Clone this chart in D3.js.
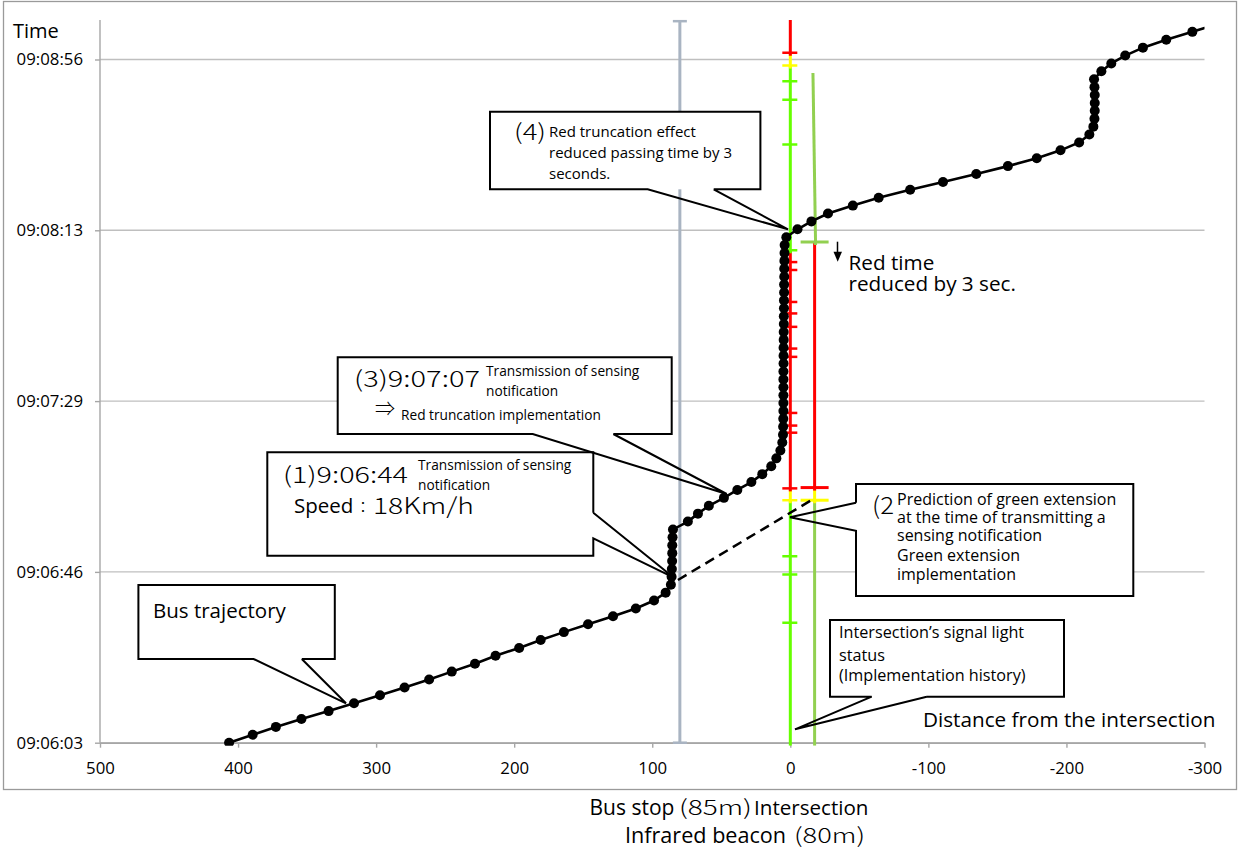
<!DOCTYPE html>
<html><head><meta charset="utf-8">
<script src="https://cdn.jsdelivr.net/npm/d3@7/dist/d3.min.js"></script>
<style>body{margin:0;background:#fff} svg{display:block}</style>
</head><body><svg id="c" width="1240" height="858"></svg>
<script>
// ---------- DATA ----------
const xTicks = [500, 400, 300, 200, 100, 0, -100, -200, -300];
// seconds after 09:06:03
const yTickSeconds = [0, 43.25, 86.5, 129.75, 173];
const yTickLabels = ["09:06:03", "09:06:46", "09:07:29", "09:08:13", "09:08:56"];

// Bus trajectory: time (s after 09:06:03) and distance from intersection (m)
const trajT = [0,2,4,6,8,10,12,14,16,18,20,22,24,26,28,30,32,34,36,38,40,42,44,46,48,50,52,54,56,58,60,62,64,66,68,70,72,74,76,78,80,82,84,86,88,90,92,94,96,98,100,102,104,106,108,110,112,114,116,118,120,122,124,126,128,130,132,134,136,138,140,142,144,146,148,150,152,154,156,158,160,162,164,166,168,170,172,174,176,178,180,182];
const trajD = [406.5,389.4,372.6,354.1,334.4,316.0,297.2,279.4,261.6,245.2,228.4,213.5,196.4,180.8,164.0,146.5,128.4,111.9,98.7,90.3,86.5,86.0,85.8,85.6,85.5,85.5,85.3,85.0,74.2,66.9,59.0,48.1,38.4,28.2,20.3,13.8,10.1,7.2,5.8,5.3,5.2,5.1,5.0,5.0,5.0,5.0,5.0,5.0,4.9,4.9,4.9,4.8,4.8,4.7,4.7,4.6,4.6,4.5,4.5,4.4,4.4,4.3,4.2,4.1,2.9,-5.2,-15.3,-27.3,-45.3,-64.0,-86.8,-110.6,-134.7,-157.6,-178.5,-195.7,-209.2,-216.6,-219.5,-220.3,-220.5,-220.5,-220.5,-220.3,-220.0,-225.3,-232.5,-242.6,-255.4,-272.3,-291.2,-309.0];

// Predicted trajectory at 18 km/h (dashed)
const predT = [41.2, 61.9];
const predD = [81.4, -17.6];

// Infrared beacon position (m) and its time span
const beaconD = 80;
const beaconT = [0, 182.7];

// Actual signal at intersection (d = 0)
const sigStart = [0, 61.4, 64.4, 124.7, 171.5, 174.7];
const sigEnd   = [61.4, 64.4, 124.7, 171.5, 174.7, 183];
const sigState = ["G", "Y", "R", "G", "Y", "R"];
const sigEventT = [30.4, 42.6, 47.2, 61.4, 64.4, 78.5, 80.3, 83.5, 97.7, 99.8, 105.3, 108.7, 111.6, 119.7, 121.7, 124.7, 151.5, 162.8, 167.5, 171.5, 174.7];

// Predicted signal at transmission time (second bar)
const predSigT0 = [0, 61.4, 64.6, 126.8];
const predSigT1 = [61.4, 64.6, 126.8, 169.6];
const predSigD0 = [-17.6, -17.6, -17.6, -18.3];
const predSigD1 = [-17.6, -17.6, -17.6, -16.4];
const predSigState = ["LG", "Y", "R", "LG"];
const predCapT = [61.4, 64.6, 126.8];
const predCapState = ["Y", "R", "LG"];

// ---------- STYLE ----------
const COL = {G: "#66ff00", Y: "#ffff00", R: "#ff0000", LG: "#92d050"};
const FONT = "'Open Sans', Lato, sans-serif";
const JFONT = "'Noto Sans CJK JP', 'Noto Sans', sans-serif";

const svg = d3.select("#c");
const P = {left: 100, right: 1204.5, top: 20, bottom: 742.7};
const x = d3.scaleLinear().domain([500, -300]).range([P.left, P.right]);
const y = d3.scaleLinear().domain([0, 183]).range([P.bottom, P.top]);

// outer border
svg.append("rect").attr("x", 3.5).attr("y", 1.5).attr("width", 1233).attr("height", 788)
  .attr("fill", "#fff").attr("stroke", "#9a9a9a").attr("stroke-width", 1.3);

svg.append("clipPath").attr("id", "clip").append("rect")
  .attr("x", P.left).attr("y", P.top - 2).attr("width", P.right - P.left).attr("height", P.bottom - P.top + 5);

// gridlines
svg.append("g").selectAll("line").data(yTickSeconds).join("line")
  .attr("x1", P.left).attr("x2", P.right)
  .attr("y1", d => y(d)).attr("y2", d => y(d))
  .attr("stroke", "#bfbfbf").attr("stroke-width", 1.4);

// axes
const yAxis = d3.axisLeft(y).tickValues(yTickSeconds).tickFormat((d, i) => yTickLabels[i])
  .tickSize(5).tickSizeOuter(0).tickPadding(12);
const gy = svg.append("g").attr("transform", `translate(${P.left},0)`).call(yAxis);
const xAxis = d3.axisBottom(x).tickValues(xTicks).tickFormat(d => d)
  .tickSize(5).tickSizeOuter(0).tickPadding(14);
const gx = svg.append("g").attr("transform", `translate(0,${P.bottom})`).call(xAxis);
[gx, gy].forEach(g => {
  g.select(".domain").attr("stroke", "#a6a6a6").attr("stroke-width", 1.4);
  g.selectAll(".tick line").attr("stroke", "#a6a6a6").attr("stroke-width", 1.4);
  g.selectAll(".tick text").attr("font-family", FONT).attr("font-size", 16.8).attr("fill", "#000");
});
gy.select(".domain").attr("d", `M0,${P.top}V${P.bottom}`);

const plot = svg.append("g").attr("clip-path", "url(#clip)");

// beacon line
const bx = x(beaconD);
plot.append("line").attr("x1", bx).attr("x2", bx).attr("y1", y(beaconT[1])).attr("y2", y(beaconT[0]))
  .attr("stroke", "#a9b4c2").attr("stroke-width", 3);
svg.append("g").selectAll("line").data(beaconT).join("line")
  .attr("x1", bx - 7).attr("x2", bx + 7).attr("y1", d => y(d)).attr("y2", d => y(d))
  .attr("stroke", "#a9b4c2").attr("stroke-width", 2.5);

// predicted signal bar
plot.append("g").selectAll("line").data(predSigT0).join("line")
  .attr("x1", (d, i) => x(predSigD0[i])).attr("x2", (d, i) => x(predSigD1[i]))
  .attr("y1", d => y(d) + 3).attr("y2", (d, i) => y(predSigT1[i]))
  .attr("stroke", (d, i) => COL[predSigState[i]]).attr("stroke-width", 3);
plot.append("g").selectAll("line").data(predCapT).join("line")
  .attr("x1", x(-17.6) - 14).attr("x2", x(-17.6) + 14)
  .attr("y1", d => y(d)).attr("y2", d => y(d))
  .attr("stroke", (d, i) => COL[predCapState[i]]).attr("stroke-width", 3);

// actual signal bar
plot.append("g").selectAll("line").data(sigStart).join("line")
  .attr("x1", x(0)).attr("x2", x(0))
  .attr("y1", d => y(d) + 3).attr("y2", (d, i) => y(sigEnd[i]))
  .attr("stroke", (d, i) => COL[sigState[i]]).attr("stroke-width", 3);
const stateAt = t => { let s = sigState[0]; sigStart.forEach((v, i) => { if (t >= v) s = sigState[i]; }); return s; };
plot.append("g").selectAll("line").data(sigEventT).join("line")
  .attr("x1", x(0) - 8).attr("x2", x(0) + 7)
  .attr("y1", d => y(d)).attr("y2", d => y(d))
  .attr("stroke", d => COL[stateAt(d)]).attr("stroke-width", 2.5);

// predicted dashed trajectory
plot.append("line").attr("x1", x(predD[0])).attr("y1", y(predT[0]))
  .attr("x2", x(predD[1])).attr("y2", y(predT[1]))
  .attr("stroke", "#000").attr("stroke-width", 2.5).attr("stroke-dasharray", "10,6");

// trajectory
const pts = trajT.map((t, i) => [trajD[i], t]);
plot.append("path").datum(pts)
  .attr("d", d3.line().x(d => x(d[0])).y(d => y(d[1])))
  .attr("fill", "none").attr("stroke", "#000").attr("stroke-width", 2.6);
plot.append("g").selectAll("circle").data(pts).join("circle")
  .attr("cx", d => x(d[0])).attr("cy", d => y(d[1])).attr("r", 5).attr("fill", "#000");

// ---------- annotations ----------
const ann = svg.append("g");
function callout(bx0, by0, bx1, by1, outline) {
  ann.append("rect").attr("x", bx0).attr("y", by0).attr("width", bx1 - bx0).attr("height", by1 - by0).attr("fill", "#fff");
  ann.append("path").attr("d", outline).attr("fill", "none").attr("stroke", "#000").attr("stroke-width", 2);
}
function txt(t, px, py, size, fam) {
  const e = ann.append("text").attr("x", px).attr("y", py).attr("font-size", size)
    .attr("font-family", fam || FONT).attr("fill", "#000").text(t);
  if (fam === JFONT) e.attr("font-weight", 300);
  return e;
}
// Japanese-style wide glyph text, stretched horizontally to the reference width
function wide(t, px, py, size, width) {
  const e = ann.append("text").attr("x", 0).attr("y", 0).attr("font-size", size)
    .attr("font-family", JFONT).attr("font-weight", 300).attr("fill", "#000").text(t);
  const w = e.node().getComputedTextLength() || width;
  e.attr("transform", `translate(${px},${py}) scale(${width / w},1)`);
  return e;
}
function block(lines, px, ys, size) {
  const e = ann.append("text").attr("font-size", size).attr("font-family", FONT).attr("fill", "#000");
  lines.forEach((l, i) => e.append("tspan").attr("x", px).attr("y", ys[i]).text(l));
  return e;
}

// Bus trajectory
callout(138.4, 585, 334.8, 659, "M301.8,659 H334.8 V585 H138.4 V659 H253.6 L346,703.3 L301.8,659");
txt("Bus trajectory", 153, 618, 20.5);

// (1)
callout(267.3, 452.3, 593.3, 555.7, "M593.3,512.7 V452.3 H267.3 V555.7 H593.3 V538.3 L673.3,577.3 L593.3,512.7");
wide("(1)9:06:44", 283, 483, 22.6, 125);
block(["Transmission of sensing", "notification"], 418, [470, 490], 13.7);
txt("Speed", 294, 513, 20.5);
txt("：", 355, 513, 16, JFONT);
wide("18Km/h", 373, 514, 22.6, 101);

// (3)
callout(337.7, 357.3, 671.7, 434, "M613.3,434 H671.7 V357.3 H337.7 V434 H532.7 L726.7,494 L613.3,434");
wide("(3)9:07:07", 354, 387, 22.6, 126);
block(["Transmission of sensing", "notification"], 486, [376, 396], 13.7);
txt("⇒", 375, 416, 20, JFONT);
txt("Red truncation implementation", 401, 420, 13.7);

// (4)
callout(490, 111.7, 760.4, 189.3, "M713.7,189.3 H760.4 V111.7 H490 V189.3 H647.7 L788,229.3 L713.7,189.3");
wide("(4)", 514, 140, 22, 32);
block(["Red truncation effect", "reduced passing time by 3", "seconds."], 549, [137, 158, 179], 15);

// (2)
callout(856, 484, 1133.3, 596, "M856,502.7 V484 H1133.3 V596 H856 V530.7 L790,517.3 L856,502.7");
wide("(2", 872, 514, 24, 22);
block(["Prediction of green extension", "at the time of transmitting a", "sensing notification", "Green extension", "implementation"],
      897, [505, 523, 541, 561, 580], 16);

// Intersection's signal light status
callout(830, 620, 1064, 696.7, "M926.7,696.7 H1064 V620 H830 V696.7 H871.7 L795,729.3 L926.7,696.7");
block(["Intersection’s signal light", "status", "(Implementation history)"], 839, [638, 661, 681], 16.2);

// Red time reduced
ann.append("line").attr("x1", 837.5).attr("x2", 837.5).attr("y1", 241.7).attr("y2", 253)
  .attr("stroke", "#000").attr("stroke-width", 1.5);
ann.append("path").attr("d", "M833.5,251.7 L842,251.7 L837.7,261.7 Z").attr("fill", "#000");
block(["Red time", "reduced by 3 sec."], 848.5, [270, 291], 20.7);

// axis titles
txt("Time", 13, 38, 20);
txt("Distance from the intersection", 923, 727, 20.7);
txt("Bus stop", 589.5, 815, 21);
wide("(85m)", 679, 815, 21, 73);
txt("Intersection", 754, 815, 20.6);
txt("Infrared beacon", 625, 843, 21.6);
wide("(80m)", 794, 843, 21, 71);
</script></body></html>
